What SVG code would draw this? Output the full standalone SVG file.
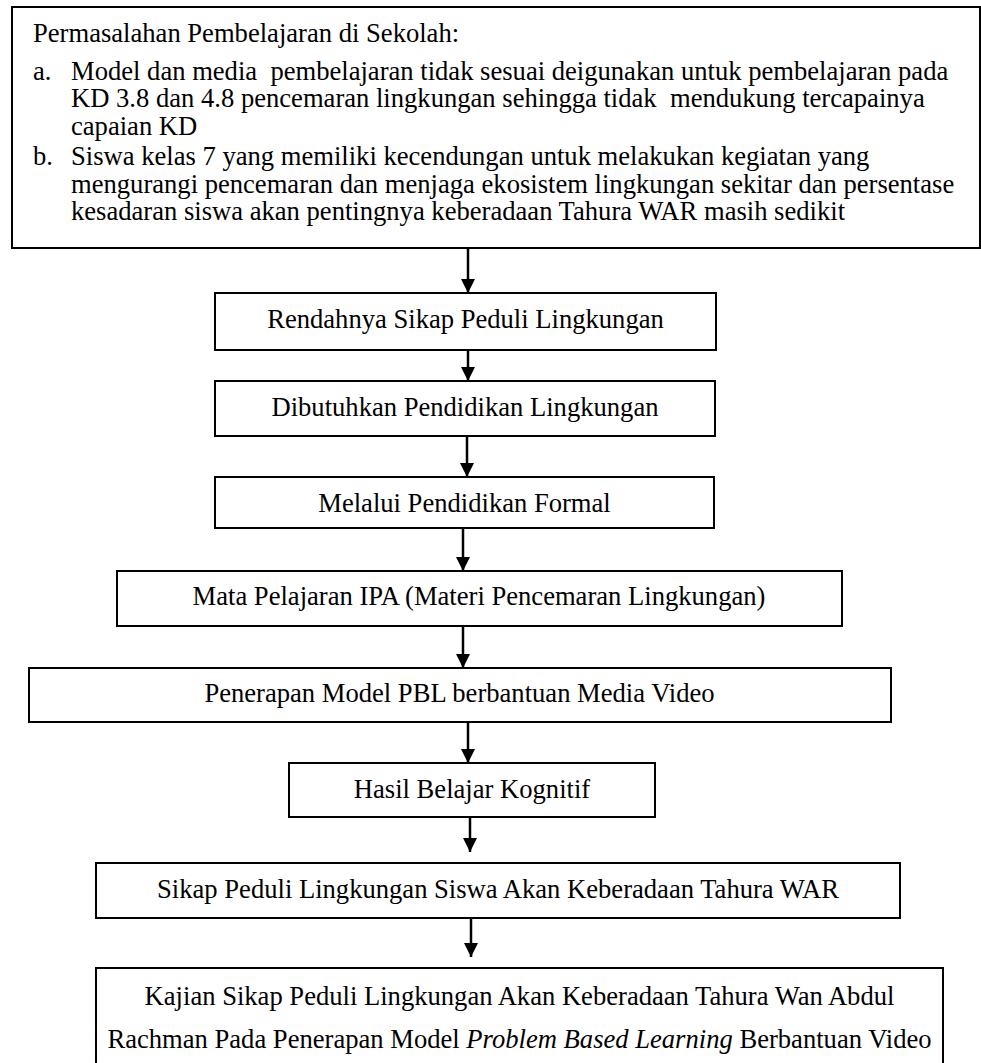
<svg xmlns="http://www.w3.org/2000/svg" width="981" height="1063" viewBox="0 0 981 1063">
<defs>
<style>
.box{fill:#fff;stroke:#000;stroke-width:2}
.t{font-family:"Liberation Serif","Times New Roman",serif;font-size:26.6px;fill:#000;white-space:pre}
.c{text-anchor:middle}
.conn{stroke:#000;stroke-width:2.5;fill:none}
</style>
<marker id="ah" viewBox="0 0 14 14" refX="14" refY="7" markerWidth="14" markerHeight="14" markerUnits="userSpaceOnUse" orient="auto">
<path d="M0,0 L14,7 L0,14 z" fill="#000"/>
</marker>
</defs>
<rect width="981" height="1063" fill="#fff"/>
<g id="n0">
<rect class="box" x="12" y="7" width="968" height="241"/>
<text class="t" x="33" y="42">Permasalahan Pembelajaran di Sekolah:</text>
<text class="t" x="33" y="80">a.</text>
<text class="t" x="71" y="80" xml:space="preserve">Model dan media  pembelajaran tidak sesuai deigunakan untuk pembelajaran pada</text>
<text class="t" x="71" y="107" xml:space="preserve">KD 3.8 dan 4.8 pencemaran lingkungan sehingga tidak  mendukung tercapainya</text>
<text class="t" x="71" y="135">capaian KD</text>
<text class="t" x="33" y="165">b.</text>
<text class="t" x="71" y="165">Siswa kelas 7 yang memiliki kecendungan untuk melakukan kegiatan yang</text>
<text class="t" x="71" y="193">mengurangi pencemaran dan menjaga ekosistem lingkungan sekitar dan persentase</text>
<text class="t" x="71" y="220">kesadaran siswa akan pentingnya keberadaan Tahura WAR masih sedikit</text>
</g>
<g id="n1">
<rect class="box" x="215" y="293" width="501" height="57"/>
<text class="t c" x="465.5" y="328">Rendahnya Sikap Peduli Lingkungan</text>
</g>
<g id="n2">
<rect class="box" x="215" y="381" width="500" height="55"/>
<text class="t c" x="465" y="416">Dibutuhkan Pendidikan Lingkungan</text>
</g>
<g id="n3">
<rect class="box" x="215" y="477" width="499" height="51"/>
<text class="t c" x="464.5" y="512">Melalui Pendidikan Formal</text>
</g>
<g id="n4">
<rect class="box" x="117" y="571" width="725" height="55"/>
<text class="t c" x="479" y="605">Mata Pelajaran IPA (Materi Pencemaran Lingkungan)</text>
</g>
<g id="n5">
<rect class="box" x="29" y="668" width="862" height="54"/>
<text class="t c" x="459.5" y="702">Penerapan Model PBL berbantuan Media Video</text>
</g>
<g id="n6">
<rect class="box" x="289" y="763" width="366" height="54"/>
<text class="t c" x="472" y="798">Hasil Belajar Kognitif</text>
</g>
<g id="n7">
<rect class="box" x="96" y="863" width="804" height="55"/>
<text class="t c" x="498" y="898">Sikap Peduli Lingkungan Siswa Akan Keberadaan Tahura WAR</text>
</g>
<g id="n8">
<rect class="box" x="96" y="968" width="847" height="110"/>
<text class="t c" x="519.5" y="1005">Kajian Sikap Peduli Lingkungan Akan Keberadaan Tahura Wan Abdul</text>
<text class="t c" x="519.5" y="1048">Rachman Pada Penerapan Model <tspan font-style="italic">Problem Based Learning</tspan> Berbantuan Video</text>
</g>
<g id="connectors">
<line class="conn" x1="468" y1="249" x2="468" y2="293" marker-end="url(#ah)"/>
<line class="conn" x1="468" y1="351" x2="468" y2="381" marker-end="url(#ah)"/>
<line class="conn" x1="467" y1="437" x2="467" y2="477" marker-end="url(#ah)"/>
<line class="conn" x1="463" y1="529" x2="463" y2="571" marker-end="url(#ah)"/>
<line class="conn" x1="463" y1="627" x2="463" y2="668" marker-end="url(#ah)"/>
<line class="conn" x1="468" y1="723" x2="468" y2="763" marker-end="url(#ah)"/>
<line class="conn" x1="470" y1="818" x2="470" y2="852" marker-end="url(#ah)"/>
<line class="conn" x1="471" y1="919" x2="471" y2="957" marker-end="url(#ah)"/>
</g>
</svg>
